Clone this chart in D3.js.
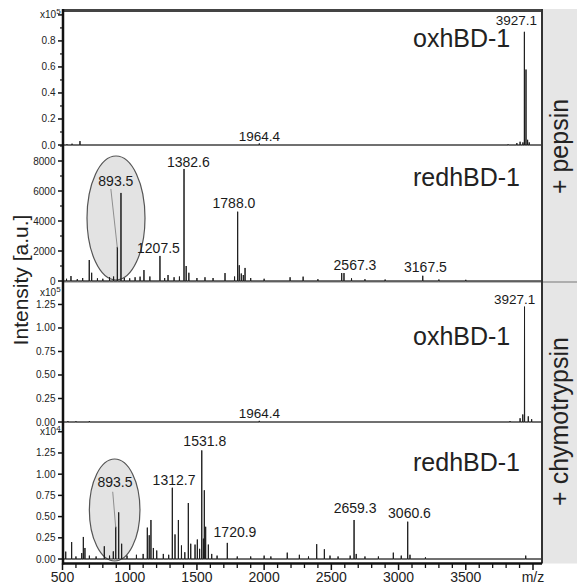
<!DOCTYPE html>
<html>
<head>
<meta charset="utf-8">
<script src="https://cdn.jsdelivr.net/npm/d3@7"></script>
<style>
  body { margin: 0; background: #fff; }
  svg { display: block; font-family: Arial, "Liberation Sans", sans-serif; }
  .tick-y { font-family: "Liberation Sans Narrow", "Arial Narrow", Arial, sans-serif; font-size: 10px; fill: #222; }
  .tick-x { font-family: "Liberation Sans Narrow", "Arial Narrow", Arial, sans-serif; font-size: 14px; fill: #222; }
</style>
</head>
<body>
<svg id="chart" width="577" height="583"></svg>
<script>
// m/z axis
const mzTicks = [500, 1000, 1500, 2000, 2500, 3000, 3500, 4000];
const mzTickLabels = ["500", "1000", "1500", "2000", "2500", "3000", "3500", "m/z"];

// y ticks for each panel
const p1Ticks = [0, 0.2, 0.4, 0.6, 0.8, 1.0];
const p1Minor = [0.1, 0.3, 0.5, 0.7, 0.9];
const p2Ticks = [0, 2000, 4000, 6000, 8000];
const p2Minor = [1000, 3000, 5000, 7000, 9000];
const p3Ticks = [0, 0.25, 0.5, 0.75, 1.0, 1.25];
const p4Ticks = [0, 0.25, 0.5, 0.75, 1.0, 1.25, 1.5];

// peaks: [m/z, intensity]
// pepsin, oxidized (x10^5)
const pepOx = [[533, 0.006], [571, 0.01], [630, 0.03], [1964, 0.012], [3815, 0.005],
  [3880, 0.015], [3904, 0.025], [3925, 0.02], [3936, 0.87], [3948, 0.58],
  [3960, 0.04], [3972, 0.02]];
// pepsin, reduced (a.u.)
const pepRed = [[530, 150], [563, 330], [610, 120], [650, 200], [699, 1400], [717, 550],
  [760, 180], [800, 150], [850, 250], [880, 300], [908, 2270], [935, 5870],
  [960, 200], [1000, 180], [1040, 250], [1077, 290], [1106, 730], [1150, 300],
  [1225, 1670], [1260, 200], [1285, 400], [1330, 250], [1370, 300], [1404, 7470],
  [1420, 1000], [1440, 550], [1500, 200], [1560, 250], [1620, 200], [1709, 530],
  [1780, 300], [1803, 4620], [1815, 1050], [1830, 500], [1845, 400], [1858, 870],
  [1900, 200], [2000, 150], [2193, 250], [2290, 290], [2400, 120], [2577, 530],
  [2594, 530], [2650, 180], [2750, 120], [2900, 100], [3180, 350], [3300, 100],
  [3500, 80]];
// chymotrypsin, oxidized (x10^5)
const chyOx = [[540, 0.01], [600, 0.008], [700, 0.01], [1964, 0.012], [3829, 0.01],
  [3904, 0.04], [3924, 0.08], [3937, 1.227], [3965, 0.06], [3990, 0.03]];
// chymotrypsin, reduced (x10^4)
const chyRed = [[524, 0.087], [568, 0.20], [600, 0.03], [643, 0.07], [655, 0.26],
  [667, 0.13], [700, 0.04], [750, 0.03], [811, 0.15], [850, 0.04], [878, 0.09],
  [896, 0.38], [918, 0.55], [940, 0.18], [980, 0.04], [1050, 0.05], [1100, 0.06],
  [1131, 0.37], [1145, 0.28], [1158, 0.46], [1176, 0.13], [1201, 0.10], [1250, 0.06],
  [1290, 0.05], [1317, 0.84], [1337, 0.29], [1362, 0.46], [1385, 0.16], [1410, 0.08],
  [1436, 0.66], [1454, 0.18], [1486, 0.17], [1503, 0.23], [1520, 0.12], [1536, 1.28],
  [1548, 0.24], [1555, 0.81], [1565, 0.38], [1585, 0.17], [1610, 0.06], [1650, 0.04],
  [1726, 0.19], [1800, 0.03], [1900, 0.03], [2000, 0.04], [2050, 0.03], [2172, 0.075],
  [2262, 0.05], [2330, 0.03], [2391, 0.175], [2448, 0.115], [2490, 0.04], [2550, 0.03],
  [2640, 0.04], [2669, 0.46], [2685, 0.06], [2750, 0.03], [2850, 0.03], [2961, 0.075],
  [3020, 0.04], [3068, 0.44], [3085, 0.05], [3200, 0.02], [3946, 0.04]];

// peak labels: [text, m/z of the peak it marks]
const pepOxLabels = [["3927.1", 3936], ["1964.4", 1964]];
const pepRedLabels = [["893.5", 908], ["1207.5", 1225], ["1382.6", 1404], ["1788.0", 1803], ["2567.3", 2577], ["3167.5", 3180]];
const chyOxLabels = [["3927.1", 3937], ["1964.4", 1964]];
const chyRedLabels = [["893.5", 896], ["1312.7", 1317], ["1531.8", 1536], ["1720.9", 1726], ["2659.3", 2669], ["3060.6", 3068]];

const svg = d3.select("#chart");
const L = 63, R = 542, B = 563.5;
const x = d3.scaleLinear().domain([500, 4067]).range([62.5, 542]);

const panels = [
  { peaks: pepOx, labels: pepOxLabels, domain: [0, 1.03], range: [145, 11], ticks: p1Ticks, minor: p1Minor,
    fmt: d3.format(".1f"), skip: 1.0, name: "oxhBD-1", nameY: 47, exp: "5", expY: 18, fs: 13.5,
    shift: [[-8, -7], [0, -2.5]] },
  { peaks: pepRed, labels: pepRedLabels, domain: [0, 9067], range: [281, 145], ticks: p2Ticks, minor: p2Minor,
    fmt: d3.format("d"), name: "redhBD-1", nameY: 186, fs: 14,
    shift: [[-1.5, -61], [-1.5, -3], [4.3, -2], [-3.7, -3.7], [13.3, -3], [2.7, -3.7]],
    ellipse: { mz: 898, v: 4200, rx: 29, ry: 62 }, leader: [-5, 3] },
  { peaks: chyOx, labels: chyOxLabels, domain: [0, 1.489], range: [422, 282], ticks: p3Ticks, minor: [],
    fmt: d3.format(".2f"), name: "oxhBD-1", nameY: 345, exp: "5", expY: 296, fs: 13.5,
    shift: [[-10, -2.7], [0, -3]] },
  { peaks: chyRed, labels: chyRedLabels, domain: [-0.047, 1.615], range: [563, 422], ticks: p4Ticks, minor: [],
    fmt: d3.format(".2f"), skip: 1.5, name: "redhBD-1", nameY: 471, exp: "4", expY: 435, fs: 14,
    shift: [[-0.7, -40], [1.7, -3], [3, -4], [7.7, -5.6], [1, -6.7], [1.8, -3.4]],
    ellipse: { mz: 888, v: 0.578, rx: 25.3, ry: 51 }, leader: [-2.3, 5] }
];

// side strip
svg.append("rect").attr("x", R).attr("y", 9).attr("width", 577 - R).attr("height", B - 9).attr("fill", "#e6e6e6");
svg.append("line").attr("x1", L).attr("x2", 577).attr("y1", 282).attr("y2", 282).attr("stroke", "#777").attr("stroke-width", 1);
svg.append("text").attr("transform", "translate(568,146.5) rotate(-90)").attr("text-anchor", "middle")
  .attr("font-size", 25).attr("fill", "#222").text("+ pepsin");
svg.append("text").attr("transform", "translate(568,421.5) rotate(-90)").attr("text-anchor", "middle")
  .attr("font-size", 25).attr("fill", "#222").text("+ chymotrypsin");

const line = d3.line();

panels.forEach((p) => {
  const y = d3.scaleLinear().domain(p.domain).range(p.range);
  const g = svg.append("g");

  // separator / zero line
  g.append("line").attr("x1", L).attr("x2", R).attr("y1", y(0)).attr("y2", y(0))
    .attr("stroke", "#888").attr("stroke-width", 1);

  if (p.ellipse) {
    g.append("ellipse").attr("cx", x(p.ellipse.mz)).attr("cy", y(p.ellipse.v))
      .attr("rx", p.ellipse.rx).attr("ry", p.ellipse.ry)
      .attr("fill", "#e3e3e3").attr("stroke", "#555").attr("stroke-width", 1.2);
  }

  // stick spectrum
  const pts = [[500, 0]];
  p.peaks.slice().sort((a, b) => a[0] - b[0]).forEach((d) => {
    pts.push([d[0] - 1, 0], [d[0], d[1]], [d[0] + 1, 0]);
  });
  pts.push([4067, 0]);
  g.append("path").attr("d", line(pts.map((d) => [x(d[0]), y(d[1])])))
    .attr("fill", "none").attr("stroke", "#1e1e1e").attr("stroke-width", 1);

  // peak labels
  p.labels.forEach((lab, i) => {
    const pk = p.peaks.find((d) => d[0] === lab[1]);
    const px = x(pk[0]), py = y(pk[1]);
    const lx = px + p.shift[i][0], ly = py + p.shift[i][1];
    g.append("text").attr("x", lx).attr("y", ly).attr("text-anchor", "middle")
      .attr("font-size", p.fs).attr("fill", "#1a1a1a").text(lab[0]);
    if (i === 0 && p.leader) {
      g.append("line").attr("x1", lx + p.leader[0]).attr("y1", ly + p.leader[1])
        .attr("x2", px).attr("y2", py + 1).attr("stroke", "#777").attr("stroke-width", 0.8);
    }
  });

  // panel name
  g.append("text").attr("x", 413).attr("y", p.nameY).attr("font-size", 25).attr("fill", "#222").text(p.name);

  // y ticks
  g.selectAll(".maj").data(p.ticks).enter().append("line")
    .attr("x1", L - 5).attr("x2", L).attr("y1", (d) => y(d)).attr("y2", (d) => y(d))
    .attr("stroke", "#111").attr("stroke-width", 1.5);
  g.selectAll(".min").data(p.minor).enter().append("line")
    .attr("x1", L - 3).attr("x2", L).attr("y1", (d) => y(d)).attr("y2", (d) => y(d))
    .attr("stroke", "#111").attr("stroke-width", 1.2);
  g.selectAll(".lab").data(p.ticks.filter((d) => d !== p.skip)).enter().append("text")
    .attr("class", "tick-y").attr("x", 55.5).attr("y", (d) => y(d)).attr("dy", "0.35em")
    .attr("text-anchor", "end").text((d) => p.fmt(d));
  if (p.exp) {
    const t = g.append("text").attr("class", "tick-y").attr("x", 40).attr("y", p.expY).attr("font-size", 9);
    t.append("tspan").text("x10");
    t.append("tspan").attr("dy", -4).attr("font-size", 8).text(p.exp);
  }
});

// frame
svg.append("line").attr("x1", L - 1).attr("x2", R + 1).attr("y1", 10.5).attr("y2", 10.5).attr("stroke", "#444").attr("stroke-width", 3);
svg.append("line").attr("x1", R).attr("x2", R).attr("y1", 9).attr("y2", B).attr("stroke", "#333").attr("stroke-width", 2);
svg.append("line").attr("x1", L).attr("x2", L).attr("y1", 9).attr("y2", B + 1).attr("stroke", "#111").attr("stroke-width", 2.5);

// x axis
const xAxis = svg.append("g").attr("transform", `translate(0,${B})`);
xAxis.append("line").attr("x1", L).attr("x2", R).attr("stroke", "#111").attr("stroke-width", 2.5);
xAxis.selectAll(".xmin").data(d3.range(600, 4001, 100).filter((d) => d % 500 !== 0)).enter().append("line")
  .attr("x1", (d) => x(d)).attr("x2", (d) => x(d)).attr("y1", 0).attr("y2", 4.5)
  .attr("stroke", "#111").attr("stroke-width", 1.3);
xAxis.selectAll(".xmaj").data(mzTicks).enter().append("line")
  .attr("x1", (d) => x(d)).attr("x2", (d) => x(d)).attr("y1", 0).attr("y2", 6.5)
  .attr("stroke", "#111").attr("stroke-width", 1.5);
xAxis.selectAll(".xlab").data(mzTicks).enter().append("text")
  .attr("class", "tick-x").attr("x", (d) => x(d)).attr("y", 18).attr("text-anchor", "middle")
  .text((d, i) => mzTickLabels[i]);

// y title
svg.append("text").attr("transform", "translate(28,280) rotate(-90)").attr("text-anchor", "middle")
  .attr("font-size", 21).attr("fill", "#222").text("Intensity [a.u.]");
</script>
</body>
</html>
